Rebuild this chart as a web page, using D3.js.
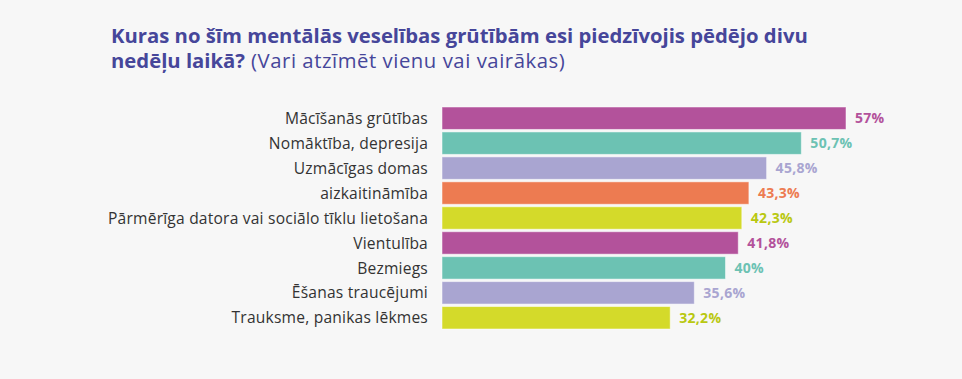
<!DOCTYPE html>
<html>
<head>
<meta charset="utf-8">
<script src="https://cdn.jsdelivr.net/npm/d3@7"></script>
<style>
  html, body { margin: 0; padding: 0; background: #f7f7f7; }
  svg { display: block; font-family: "Open Sans", Lato, sans-serif; }
</style>
</head>
<body>
<svg id="chart" width="962" height="379"></svg>
<script>
var categories = [
  'Mācīšanās grūtības',
  'Nomāktība, depresija',
  'Uzmācīgas domas',
  'aizkaitināmība',
  'Pārmērīga datora vai sociālo tīklu lietošana',
  'Vientulība',
  'Bezmiegs',
  'Ēšanas traucējumi',
  'Trauksme, panikas lēkmes'
];
var values = [57, 50.7, 45.8, 43.3, 42.3, 41.8, 40, 35.6, 32.2];
var valueLabels = ['57%', '50,7%', '45,8%', '43,3%', '42,3%', '41,8%', '40%', '35,6%', '32,2%'];
var barColors = ['#b3529b', '#6cc2b3', '#a9a5d1', '#ed7b51', '#d4da2a', '#b3529b', '#6cc2b3', '#a9a5d1', '#d4da2a'];
var labelColors = ['#b3529b', '#6cc2b3', '#a9a5d1', '#ed7b51', '#b9c811', '#b3529b', '#6cc2b3', '#a9a5d1', '#b9c811'];

var svg = d3.select('#chart');

// title, two lines; second line is bold + regular part
svg.append('text')
  .attr('x', 111).attr('y', 43)
  .attr('fill', '#46469a')
  .style('font-size', '20.3px')
  .style('font-weight', 700)
  .text('Kuras no šīm mentālās veselības grūtībām esi piedzīvojis pēdējo divu');

var boldPart = svg.append('text')
  .attr('x', 111).attr('y', 67.5)
  .attr('fill', '#46469a')
  .style('font-size', '20.3px')
  .style('font-weight', 700)
  .text('nedēļu laikā?');

var bw = boldPart.node().getComputedTextLength();

svg.append('text')
  .attr('x', 111 + bw + 6).attr('y', 67.5)
  .attr('fill', '#46469a')
  .style('font-size', '20.3px')
  .style('letter-spacing', '0.55px')
  .text('(Vari atzīmēt vienu vai vairākas)');

var x = d3.scaleLinear().domain([0, 57]).range([442, 846]);
var y = d3.scaleBand().domain(categories).range([107, 329]).paddingInner(0.1).paddingOuter(0);

var row = svg.selectAll('.row')
  .data(categories)
  .enter().append('g')
  .attr('class', 'row');

row.append('rect')
  .attr('x', x(0))
  .attr('y', function(d) { return y(d); })
  .attr('width', function(d, i) { return x(values[i]) - x(0); })
  .attr('height', y.bandwidth())
  .attr('fill', function(d, i) { return barColors[i]; })
  .attr('stroke', '#ffffff')
  .attr('stroke-opacity', 0.5)
  .attr('stroke-width', 1);

row.append('text')
  .attr('x', 428)
  .attr('y', function(d) { return y(d) + y.bandwidth() / 2; })
  .attr('dy', '0.36em')
  .attr('text-anchor', 'end')
  .attr('fill', '#333333')
  .style('font-size', '15.6px')
  .style('letter-spacing', '0.2px')
  .text(function(d) { return d; });

row.append('text')
  .attr('x', function(d, i) { return x(values[i]) + 9; })
  .attr('y', function(d) { return y(d) + y.bandwidth() / 2; })
  .attr('dy', '0.37em')
  .attr('fill', function(d, i) { return labelColors[i]; })
  .style('font-size', '14px')
  .style('font-weight', 700)
  .style('letter-spacing', '0.3px')
  .text(function(d, i) { return valueLabels[i]; });
</script>
</body>
</html>
